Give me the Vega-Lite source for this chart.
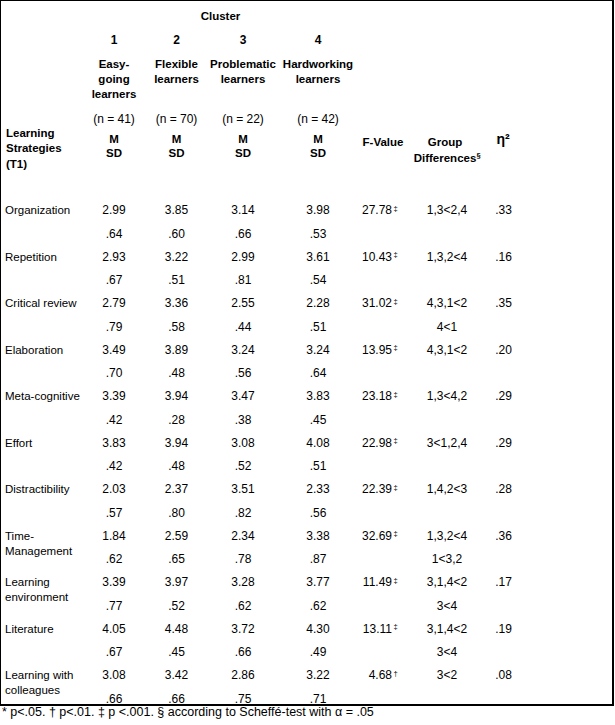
{
  "$schema": "https://vega.github.io/schema/vega-lite/v6.json",
  "width": 613,
  "height": 705,
  "autosize": {"type": "none"},
  "padding": {"left": 0, "top": 0, "right": 2, "bottom": 20},
  "background": "white",
  "config": {
    "view": {"stroke": "black", "strokeWidth": 2},
    "axis": {"disable": true},
    "text": {"font": "Liberation Sans", "fontSize": 11.5, "color": "black", "baseline": "alphabetic", "lineBreak": "\n"}
  },
  "title": {
    "text": "* p<.05. † p<.01. ‡ p <.001. § according to Scheffé-test with α = .05",
    "orient": "bottom", "anchor": "start", "offset": 11, "baseline": "alphabetic",
    "font": "Liberation Sans", "fontSize": 12.5, "fontWeight": "normal", "color": "black", "dx": 2
  },
  "datasets": {
    "cells": [
      {"strategy": "Organization", "cluster": 1, "M": 2.99, "SD": ".64"},
      {"strategy": "Organization", "cluster": 2, "M": 3.85, "SD": ".60"},
      {"strategy": "Organization", "cluster": 3, "M": 3.14, "SD": ".66"},
      {"strategy": "Organization", "cluster": 4, "M": 3.98, "SD": ".53"},
      {"strategy": "Repetition", "cluster": 1, "M": 2.93, "SD": ".67"},
      {"strategy": "Repetition", "cluster": 2, "M": 3.22, "SD": ".51"},
      {"strategy": "Repetition", "cluster": 3, "M": 2.99, "SD": ".81"},
      {"strategy": "Repetition", "cluster": 4, "M": 3.61, "SD": ".54"},
      {"strategy": "Critical review", "cluster": 1, "M": 2.79, "SD": ".79"},
      {"strategy": "Critical review", "cluster": 2, "M": 3.36, "SD": ".58"},
      {"strategy": "Critical review", "cluster": 3, "M": 2.55, "SD": ".44"},
      {"strategy": "Critical review", "cluster": 4, "M": 2.28, "SD": ".51"},
      {"strategy": "Elaboration", "cluster": 1, "M": 3.49, "SD": ".70"},
      {"strategy": "Elaboration", "cluster": 2, "M": 3.89, "SD": ".48"},
      {"strategy": "Elaboration", "cluster": 3, "M": 3.24, "SD": ".56"},
      {"strategy": "Elaboration", "cluster": 4, "M": 3.24, "SD": ".64"},
      {"strategy": "Meta-cognitive", "cluster": 1, "M": 3.39, "SD": ".42"},
      {"strategy": "Meta-cognitive", "cluster": 2, "M": 3.94, "SD": ".28"},
      {"strategy": "Meta-cognitive", "cluster": 3, "M": 3.47, "SD": ".38"},
      {"strategy": "Meta-cognitive", "cluster": 4, "M": 3.83, "SD": ".45"},
      {"strategy": "Effort", "cluster": 1, "M": 3.83, "SD": ".42"},
      {"strategy": "Effort", "cluster": 2, "M": 3.94, "SD": ".48"},
      {"strategy": "Effort", "cluster": 3, "M": 3.08, "SD": ".52"},
      {"strategy": "Effort", "cluster": 4, "M": 4.08, "SD": ".51"},
      {"strategy": "Distractibility", "cluster": 1, "M": 2.03, "SD": ".57"},
      {"strategy": "Distractibility", "cluster": 2, "M": 2.37, "SD": ".80"},
      {"strategy": "Distractibility", "cluster": 3, "M": 3.51, "SD": ".82"},
      {"strategy": "Distractibility", "cluster": 4, "M": 2.33, "SD": ".56"},
      {"strategy": "Time-Management", "cluster": 1, "M": 1.84, "SD": ".62"},
      {"strategy": "Time-Management", "cluster": 2, "M": 2.59, "SD": ".65"},
      {"strategy": "Time-Management", "cluster": 3, "M": 2.34, "SD": ".78"},
      {"strategy": "Time-Management", "cluster": 4, "M": 3.38, "SD": ".87"},
      {"strategy": "Learning environment", "cluster": 1, "M": 3.39, "SD": ".77"},
      {"strategy": "Learning environment", "cluster": 2, "M": 3.97, "SD": ".52"},
      {"strategy": "Learning environment", "cluster": 3, "M": 3.28, "SD": ".62"},
      {"strategy": "Learning environment", "cluster": 4, "M": 3.77, "SD": ".62"},
      {"strategy": "Literature", "cluster": 1, "M": 4.05, "SD": ".67"},
      {"strategy": "Literature", "cluster": 2, "M": 4.48, "SD": ".45"},
      {"strategy": "Literature", "cluster": 3, "M": 3.72, "SD": ".66"},
      {"strategy": "Literature", "cluster": 4, "M": 4.30, "SD": ".49"},
      {"strategy": "Learning with colleagues", "cluster": 1, "M": 3.08, "SD": ".66"},
      {"strategy": "Learning with colleagues", "cluster": 2, "M": 3.42, "SD": ".66"},
      {"strategy": "Learning with colleagues", "cluster": 3, "M": 2.86, "SD": ".75"},
      {"strategy": "Learning with colleagues", "cluster": 4, "M": 3.22, "SD": ".71"}
    ],
    "tests": [
      {"strategy": "Organization", "label": "Organization", "F": 27.78, "sig": "‡", "diff": "1,3<2,4", "diff2": "", "eta": ".33"},
      {"strategy": "Repetition", "label": "Repetition", "F": 10.43, "sig": "‡", "diff": "1,3,2<4", "diff2": "", "eta": ".16"},
      {"strategy": "Critical review", "label": "Critical review", "F": 31.02, "sig": "‡", "diff": "4,3,1<2", "diff2": "4<1", "eta": ".35"},
      {"strategy": "Elaboration", "label": "Elaboration", "F": 13.95, "sig": "‡", "diff": "4,3,1<2", "diff2": "", "eta": ".20"},
      {"strategy": "Meta-cognitive", "label": "Meta-cognitive", "F": 23.18, "sig": "‡", "diff": "1,3<4,2", "diff2": "", "eta": ".29"},
      {"strategy": "Effort", "label": "Effort", "F": 22.98, "sig": "‡", "diff": "3<1,2,4", "diff2": "", "eta": ".29"},
      {"strategy": "Distractibility", "label": "Distractibility", "F": 22.39, "sig": "‡", "diff": "1,4,2<3", "diff2": "", "eta": ".28"},
      {"strategy": "Time-Management", "label": "Time-\nManagement", "F": 32.69, "sig": "‡", "diff": "1,3,2<4", "diff2": "1<3,2", "eta": ".36"},
      {"strategy": "Learning environment", "label": "Learning\nenvironment", "F": 11.49, "sig": "‡", "diff": "3,1,4<2", "diff2": "3<4", "eta": ".17"},
      {"strategy": "Literature", "label": "Literature", "F": 13.11, "sig": "‡", "diff": "3,1,4<2", "diff2": "3<4", "eta": ".19"},
      {"strategy": "Learning with colleagues", "label": "Learning with\ncolleagues", "F": 4.68, "sig": "†", "diff": "3<2", "diff2": "", "eta": ".08"}
    ]
  },
  "resolve": {"scale": {"y": "independent"}},
  "layer": [
    {
      "encoding": {
        "y": {"field": "strategy", "type": "nominal", "scale": {"type": "point", "padding": 0, "domain": ["Organization", "Repetition", "Critical review", "Elaboration", "Meta-cognitive", "Effort", "Distractibility", "Time-Management", "Learning environment", "Literature", "Learning with colleagues"], "range": [214, 679]}}
      },
      "layer": [
        {
          "data": {"name": "tests"},
          "mark": {"type": "text", "align": "left", "lineHeight": 15},
          "encoding": {
            "x": {"datum": 0, "type": "quantitative", "scale": {"domain": [0, 1, 2, 3, 4, 5, 6, 7], "range": [5, 114, 176.5, 243, 318, 383, 447, 503.5], "zero": false, "nice": false}},
            "text": {"field": "label"}
          }
        },
        {
          "data": {"name": "cells"},
          "mark": {"type": "text", "align": "center", "fontSize": 12},
          "encoding": {
            "x": {"field": "cluster", "type": "quantitative"},
            "text": {"field": "M", "format": ".2f"}
          }
        },
        {
          "data": {"name": "cells"},
          "mark": {"type": "text", "align": "center", "fontSize": 12, "dy": 23.5},
          "encoding": {
            "x": {"field": "cluster", "type": "quantitative"},
            "text": {"field": "SD"}
          }
        },
        {
          "data": {"name": "tests"},
          "mark": {"type": "text", "align": "right", "fontSize": 12, "dx": 9},
          "encoding": {
            "x": {"datum": 5, "type": "quantitative"},
            "text": {"field": "F", "format": ".2f"}
          }
        },
        {
          "data": {"name": "tests"},
          "mark": {"type": "text", "align": "left", "dx": 10.5, "dy": -3.5, "fontSize": 7.5},
          "encoding": {
            "x": {"datum": 5, "type": "quantitative"},
            "text": {"field": "sig"}
          }
        },
        {
          "data": {"name": "tests"},
          "mark": {"type": "text", "align": "center", "fontSize": 12},
          "encoding": {
            "x": {"datum": 6, "type": "quantitative"},
            "text": {"field": "diff"}
          }
        },
        {
          "data": {"name": "tests"},
          "mark": {"type": "text", "align": "center", "fontSize": 12, "dy": 23.5},
          "encoding": {
            "x": {"datum": 6, "type": "quantitative"},
            "text": {"field": "diff2"}
          }
        },
        {
          "data": {"name": "tests"},
          "mark": {"type": "text", "align": "center", "fontSize": 12},
          "encoding": {
            "x": {"datum": 7, "type": "quantitative"},
            "text": {"field": "eta"}
          }
        }
      ]
    },
    {
      "layer": [
        {
          "data": {"values": [{"text": "Cluster"}]},
          "mark": {"type": "text", "align": "center", "fontWeight": "bold", "dx": 44, "dy": 4.5},
          "encoding": {
            "x": {"datum": 2, "type": "quantitative"},
            "y": {"datum": "cluster", "type": "nominal", "scale": {"type": "point", "padding": 0, "domain": ["cluster", "number", "name", "n", "stat"], "range": [15, 138]}},
            "text": {"field": "text"}
          }
        },
        {
          "data": {"values": [{"col": 1, "text": "1"}, {"col": 2, "text": "2"}, {"col": 3, "text": "3"}, {"col": 4, "text": "4"}]},
          "mark": {"type": "text", "align": "center", "fontWeight": "bold", "fontSize": 12, "dy": -2},
          "encoding": {
            "x": {"field": "col", "type": "quantitative"},
            "y": {"datum": "number", "type": "nominal"},
            "text": {"field": "text"}
          }
        },
        {
          "data": {"values": [{"col": 1, "text": "Easy-\ngoing\nlearners"}, {"col": 2, "text": "Flexible\nlearners"}, {"col": 3, "text": "Problematic\nlearners"}, {"col": 4, "text": "Hardworking\nlearners"}]},
          "mark": {"type": "text", "align": "center", "fontWeight": "bold", "dy": -8.2, "lineHeight": 15},
          "encoding": {
            "x": {"field": "col", "type": "quantitative"},
            "y": {"datum": "name", "type": "nominal"},
            "text": {"field": "text"}
          }
        },
        {
          "data": {"values": [{"col": 1, "text": "(n = 41)"}, {"col": 2, "text": "(n = 70)"}, {"col": 3, "text": "(n = 22)"}, {"col": 4, "text": "(n = 42)"}]},
          "mark": {"type": "text", "align": "center", "fontSize": 12, "dy": 16},
          "encoding": {
            "x": {"field": "col", "type": "quantitative"},
            "y": {"datum": "n", "type": "nominal"},
            "text": {"field": "text"}
          }
        },
        {
          "data": {"values": [{"col": 1, "text": "M\nSD"}, {"col": 2, "text": "M\nSD"}, {"col": 3, "text": "M\nSD"}, {"col": 4, "text": "M\nSD"}]},
          "mark": {"type": "text", "align": "center", "fontWeight": "bold", "dy": 4.7, "lineHeight": 14.7},
          "encoding": {
            "x": {"field": "col", "type": "quantitative"},
            "y": {"datum": "stat", "type": "nominal"},
            "text": {"field": "text"}
          }
        },
        {
          "data": {"values": [{"text": "Learning\nStrategies\n(T1)"}]},
          "mark": {"type": "text", "align": "left", "fontWeight": "bold", "dx": 1, "dy": -0.8, "lineHeight": 15.3},
          "encoding": {
            "x": {"datum": 0, "type": "quantitative"},
            "y": {"datum": "stat", "type": "nominal"},
            "text": {"field": "text"}
          }
        },
        {
          "data": {"values": [{"text": "F-Value"}]},
          "mark": {"type": "text", "align": "center", "fontWeight": "bold", "dy": 7.7},
          "encoding": {
            "x": {"datum": 5, "type": "quantitative"},
            "y": {"datum": "stat", "type": "nominal"},
            "text": {"field": "text"}
          }
        },
        {
          "data": {"values": [{"text": "Group\nDifferences"}]},
          "mark": {"type": "text", "align": "center", "fontWeight": "bold", "dx": -2, "dy": 7.7, "lineHeight": 16.6},
          "encoding": {
            "x": {"datum": 6, "type": "quantitative"},
            "y": {"datum": "stat", "type": "nominal"},
            "text": {"field": "text"}
          }
        },
        {
          "data": {"values": [{"text": "§"}]},
          "mark": {"type": "text", "align": "left", "fontWeight": "bold", "fontSize": 7.5, "dx": 29.5, "dy": 20.2},
          "encoding": {
            "x": {"datum": 6, "type": "quantitative"},
            "y": {"datum": "stat", "type": "nominal"},
            "text": {"field": "text"}
          }
        },
        {
          "data": {"values": [{"text": "η²"}]},
          "mark": {"type": "text", "align": "center", "fontWeight": "bold", "fontSize": 14, "dx": -0.5, "dy": 5.5},
          "encoding": {
            "x": {"datum": 7, "type": "quantitative"},
            "y": {"datum": "stat", "type": "nominal"},
            "text": {"field": "text"}
          }
        }
      ]
    }
  ]
}
